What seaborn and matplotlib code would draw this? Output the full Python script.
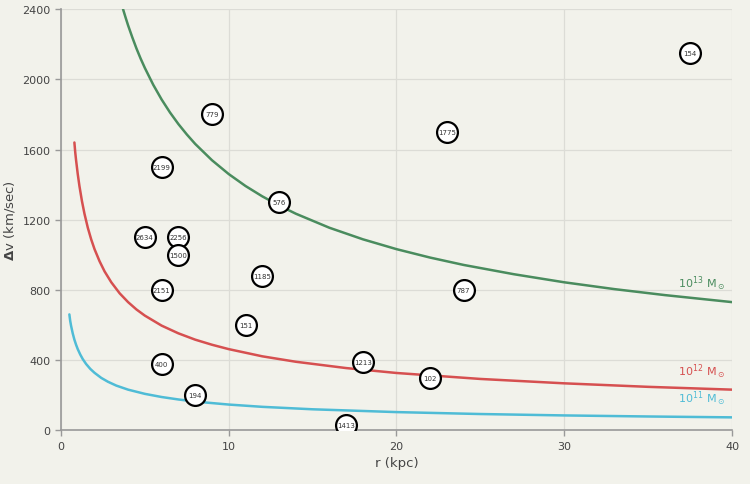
import numpy as np
import pandas as pd
import matplotlib
matplotlib.use("Agg")
import matplotlib.pyplot as plt
import seaborn as sns

# ----- curvas de velocidade -----
r_13 = [3.7, 3.85, 4, 4.25, 4.5, 4.75, 5, 5.5, 6, 6.5, 7, 7.5, 8, 9, 10, 11, 12, 13,
        14, 16, 18, 20, 22, 24, 27, 30, 33, 36, 40]
v_13 = [2400, 2353, 2308, 2240, 2176, 2118, 2065, 1969, 1885, 1811, 1745, 1686, 1632,
        1539, 1460, 1392, 1333, 1281, 1234, 1154, 1088, 1032, 984, 942, 889, 843, 804, 770, 730]

r_12 = [0.8, 0.85, 0.9, 1, 1.1, 1.25, 1.4, 1.6, 1.8, 2, 2.3, 2.6, 3, 3.5, 4, 4.5, 5, 6,
        7, 8, 9, 10, 12, 14, 17, 20, 25, 30, 35, 40]
v_12 = [1640, 1584, 1539, 1460, 1392, 1306, 1234, 1154, 1088, 1032, 963, 905, 843, 780,
        730, 688, 653, 596, 552, 516, 487, 462, 421, 390, 354, 326, 292, 267, 247, 231]

r_11 = [0.5, 0.55, 0.6, 0.7, 0.8, 0.9, 1, 1.15, 1.3, 1.5, 1.75, 2, 2.4, 2.8, 3.3, 4, 5,
        6, 7, 8, 10, 12, 15, 20, 25, 30, 35, 40]
v_11 = [660, 623, 596, 552, 516, 487, 462, 431, 405, 377, 349, 327, 298, 276, 254, 231,
        207, 189, 175, 163, 146, 133, 119, 103, 92, 84, 78, 73]

# ----- pares de galaxias -----
ids = ['154', '779', '1775', '2199', '576', '2634', '2256', '1500', '1185',
       '2151', '787', '151', '1213', '400', '102', '194', '1413']
r_pts = [37.5, 9, 23, 6, 13, 5, 7, 7, 12, 6, 24, 11, 18, 6, 22, 8, 17]
dv_pts = [2150, 1800, 1700, 1500, 1300, 1100, 1100, 1000, 880, 800, 800, 600, 390, 380, 300, 200, 28]

c_13 = '#4a8c5e'
c_12 = '#d65050'
c_11 = '#4fbcd6'
bg = '#f2f2eb'

sns.set_theme(style='whitegrid')
plt.rcParams['font.family'] = ['DejaVu Sans']

fig = plt.figure(figsize=(7.5, 4.85), dpi=100, facecolor=bg)
ax = fig.add_axes([0.0813, 0.111, 0.8947, 0.868])
ax.set_facecolor(bg)

for r, v, c in [(r_13, v_13, c_13), (r_12, v_12, c_12), (r_11, v_11, c_11)]:
    sns.lineplot(x=r, y=v, color=c, linewidth=1.8, ax=ax, sort=False)

df = pd.DataFrame({'r': r_pts, 'dv': dv_pts, 'id': ids})
sns.scatterplot(data=df, x='r', y='dv', s=225, color='white', edgecolor='black',
                linewidth=1.6, ax=ax, zorder=5)
for _, row in df.iterrows():
    ax.text(row['r'], row['dv'], row['id'], ha='center', va='center',
            fontsize=5, color='#333333', zorder=6)

ax.text(39.6, 840, r'$10^{13}$ M$_\odot$', color=c_13, ha='right', va='center', fontsize=8)
ax.text(39.6, 336, r'$10^{12}$ M$_\odot$', color=c_12, ha='right', va='center', fontsize=8)
ax.text(39.6, 182, r'$10^{11}$ M$_\odot$', color=c_11, ha='right', va='center', fontsize=8)

ax.set_xlim(0, 40)
ax.set_ylim(0, 2400)
ax.set_xticks([0, 10, 20, 30, 40])
ax.set_yticks(range(0, 2401, 400))
ax.grid(True, color='#dcdcd6', linewidth=0.9)
for s in ['top', 'right']:
    ax.spines[s].set_visible(False)
for s in ['left', 'bottom']:
    ax.spines[s].set_color('#999999')
    ax.spines[s].set_linewidth(1.2)
ax.tick_params(axis='both', colors='#999999', labelcolor='#444444', labelsize=8,
               length=4, width=1, left=True, bottom=True)
ax.set_xlabel('r (kpc)', fontsize=9.5, color='#444444')
ax.set_ylabel(r'$\mathbf{\Delta}$v (km/sec)', fontsize=9.5, color='#444444')

fig.savefig('out.png', dpi=100, facecolor=bg)
